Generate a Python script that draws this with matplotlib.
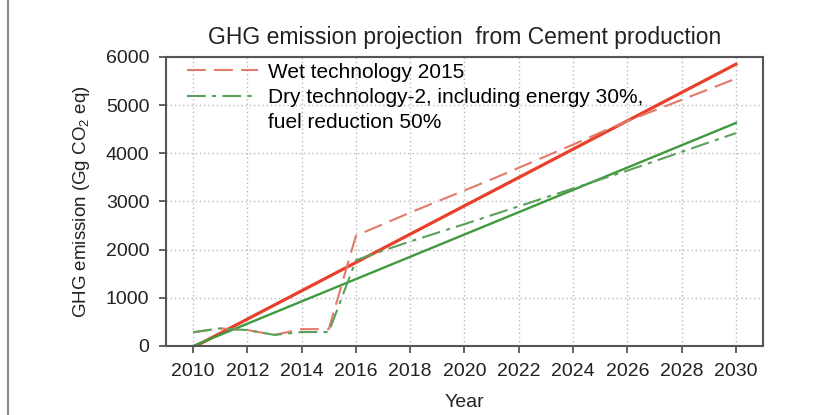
import matplotlib
matplotlib.use("Agg")
import matplotlib.pyplot as plt
from matplotlib.lines import Line2D

plt.rcParams['font.family'] = ['Liberation Sans', 'DejaVu Sans']
plt.rcParams['mathtext.default'] = 'regular'

# trend lines (start / end)
trend_years = [2010, 2030]
wet_trend = [-30, 5850]
dry_trend = [0, 4630]

# projections
years = list(range(2010, 2031))
wet_2015 = [285, 365, 330, 230, 350, 350, 2290, 2530, 2770, 3000, 3230,
            3460, 3700, 3940, 4180, 4430, 4670, 4890, 5110, 5330, 5550]
dry_tech2 = [285, 365, 330, 230, 290, 290, 1780, 1980, 2170, 2350, 2530,
             2715, 2900, 3085, 3270, 3455, 3640, 3835, 4030, 4225, 4420]

xticks = list(range(2010, 2031, 2))
yticks = [0, 1000, 2000, 3000, 4000, 5000, 6000]

red = '#e8402a'
red_light = '#e27a6a'
green = '#3f9a3f'
green_light = '#5aa05a'

fig = plt.figure(figsize=(8.37, 4.15), dpi=100)
ax = fig.add_axes([0.1983, 0.1663, 0.7133, 0.6964])

ax.plot(trend_years, wet_trend, color=red, lw=2.3)
ax.plot(trend_years, dry_trend, color=green, lw=1.7)
l1, = ax.plot(years, wet_2015, color=red_light, lw=1.5, ls=(0, (9, 4)))
l2, = ax.plot(years, dry_tech2, color=green_light, lw=1.5, ls=(0, (9, 3, 2, 3)))

ax.set_xlim(2009, 2031)
ax.set_ylim(0, 6000)
ax.set_xticks(xticks)
ax.set_yticks(yticks)
ax.grid(True, ls=(0, (1, 2)), color='#b8b8b8', lw=1)

for s in ax.spines.values():
    s.set_color('#555555')
    s.set_linewidth(1.5)
ax.tick_params(direction='out', length=5, width=1.3, color='#555555',
               labelsize=14, labelcolor='#222222', pad=7)

ax.set_title('GHG emission projection  from Cement production', fontsize=16.5,
             color='#222222', pad=9)
ax.set_xlabel('Year', fontsize=14, color='#222222', labelpad=10)
ax.set_ylabel('GHG emission (Gg CO$_2$ eq)', fontsize=13.5, color='#222222', labelpad=10)

blank = Line2D([], [], color='none')
ax.legend([l1, l2, blank],
          ['Wet technology 2015', 'Dry technology-2, including energy 30%,',
           'fuel reduction 50%'],
          loc='upper left', frameon=False, fontsize=15, handlelength=3.4,
          labelspacing=0.3, borderpad=0, borderaxespad=0, handletextpad=0.5,
          bbox_to_anchor=(0.035, 0.98))

fig.add_artist(Line2D([0.01, 0.01], [0, 1], transform=fig.transFigure,
                      color='#888888', lw=1.5))

fig.savefig('out.png', dpi=100)
